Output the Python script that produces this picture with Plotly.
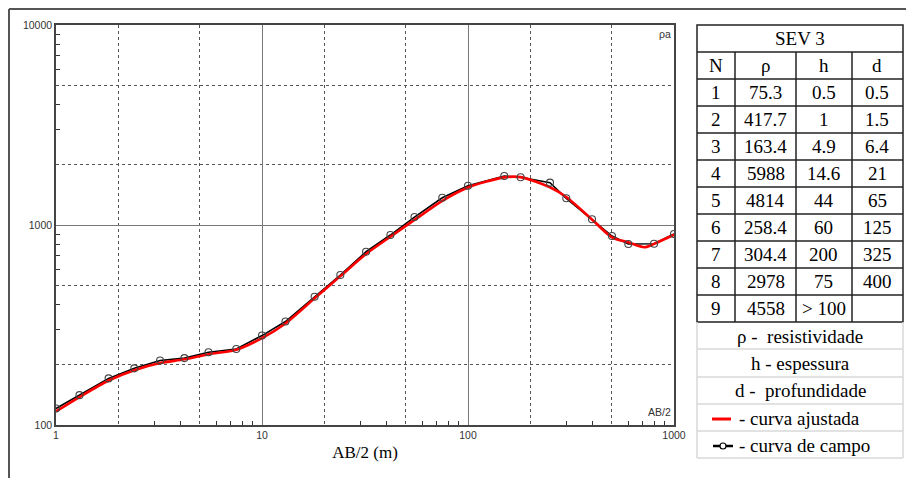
import plotly.graph_objects as go

# ---------------- data ----------------
ab2 = [1, 1.3, 1.8, 2.4, 3.2, 4.2, 5.5, 7.5, 10, 13, 18, 24, 32, 42, 55, 75,
       100, 150, 180, 250, 300, 400, 500, 600, 800, 1000]
rho_field = [121, 141, 171, 192, 210, 216, 231, 240, 280, 329, 438, 562, 735,
             891, 1096, 1369, 1572, 1758, 1732, 1628, 1360, 1068, 881, 804, 806, 902]

ab2_fit = [1, 1.3, 1.8, 2.4, 3.2, 4.2, 5.5, 7.5, 10, 13, 18, 24, 32, 42, 55, 75,
           100, 150, 180, 250, 300, 400, 500, 600, 720, 800, 1000]
rho_fit = [117, 138, 167, 188, 204, 213, 226, 238, 272, 322, 430, 555, 716, 874,
           1060, 1320, 1540, 1730, 1735, 1544, 1380, 1065, 868, 819, 774, 805, 894]

x_major = [1, 10, 100, 1000]
x_major_labels = ["1", "10", "100", "1000"]
x_grid_minor = [2, 5, 20, 50, 200, 500]
x_small_ticks = [3, 4, 6, 7, 8, 9, 30, 40, 60, 70, 80, 90, 300, 400, 600, 700, 800, 900]

y_major = [100, 1000, 10000]
y_major_labels = ["100", "1000", "10000"]
y_grid_minor = [200, 500, 2000, 5000]
y_small_ticks = [300, 400, 600, 700, 800, 900, 3000, 4000, 6000, 7000, 8000, 9000]

table_title = "SEV 3"
table_header = ["N", "ρ", "h", "d"]
col_N = ["1", "2", "3", "4", "5", "6", "7", "8", "9"]
col_rho = ["75.3", "417.7", "163.4", "5988", "4814", "258.4", "304.4", "2978", "4558"]
col_h = ["0.5", "1", "4.9", "14.6", "44", "60", "200", "75", "> 100"]
col_d = ["0.5", "1.5", "6.4", "21", "65", "125", "325", "400", ""]
legend_texts = ["ρ -  resistividade", "h - espessura", "d -  profundidade",
                "- curva ajustada", "- curva de campo"]

# ---------------- geometry (page pixels; the page body adds an 8px offset) ----------------
OFF = 8
W, H = 914 - OFF, 478 - OFF
PL, PR, PT, PB = 56, 674, 25, 425          # plot area in page pixels
L, R, T, B = PL - OFF, PR - OFF, PT - OFF, PB - OFF


def px(x):
    return (x - OFF - L) / (R - L)


def py(y):
    return (B - (y - OFF)) / (B - T)


fig = go.Figure()

fig.add_trace(go.Scatter(x=ab2, y=rho_field, mode="lines",
                         line=dict(color="black", width=1.6),
                         showlegend=False, hoverinfo="skip"))
fig.add_trace(go.Scatter(x=ab2_fit, y=rho_fit, mode="lines",
                         line=dict(color="#ff0000", width=2.6, shape="spline", smoothing=0.8),
                         showlegend=False))
fig.add_trace(go.Scatter(x=ab2, y=rho_field, mode="markers",
                         marker=dict(symbol="circle-open", size=7, color="#444",
                                     line=dict(width=1.1, color="#444")),
                         showlegend=False))
fig.add_trace(go.Scatter(x=[1], y=[100], xaxis="x2", yaxis="y2", mode="markers",
                         marker=dict(opacity=0), showlegend=False, hoverinfo="skip"))

tickfont = dict(family="Liberation Sans, Arial, sans-serif", size=10.5, color="#333")

fig.update_layout(
    width=W, height=H,
    margin=dict(l=L, r=W - R, t=T, b=H - B, pad=0),
    paper_bgcolor="white", plot_bgcolor="white",
    xaxis=dict(type="log", range=[0, 3], tickvals=x_major, ticktext=x_major_labels,
               ticks="", showline=True, mirror=True, linecolor="#444", linewidth=1.5,
               showgrid=True, gridcolor="#777", gridwidth=1.4, zeroline=False,
               tickfont=tickfont,
               minor=dict(tickvals=x_grid_minor, showgrid=True, gridcolor="#555",
                          griddash="3px,3px", gridwidth=1.4, ticks=""),
               title=dict(text="AB/2 (m)", standoff=6,
                          font=dict(family="Liberation Serif, Times New Roman, serif",
                                    size=17, color="black"))),
    yaxis=dict(type="log", range=[2, 4], tickvals=y_major, ticktext=y_major_labels,
               ticks="", showline=True, mirror=True, linecolor="#444", linewidth=1.5,
               showgrid=True, gridcolor="#777", gridwidth=1.4, zeroline=False,
               tickfont=tickfont,
               minor=dict(tickvals=y_grid_minor, showgrid=True, gridcolor="#555",
                          griddash="3px,3px", gridwidth=1.4, ticks="")),
    xaxis2=dict(type="log", range=[0, 3], overlaying="x", anchor="y", side="bottom",
                tickvals=x_small_ticks, ticks="inside", ticklen=4, tickwidth=1.2,
                tickcolor="#333", showticklabels=False, showgrid=False,
                showline=False, zeroline=False),
    yaxis2=dict(type="log", range=[2, 4], overlaying="y", anchor="x", side="left",
                tickvals=y_small_ticks, ticks="inside", ticklen=4, tickwidth=1.2,
                tickcolor="#333", showticklabels=False, showgrid=False,
                showline=False, zeroline=False),
)

shapes = []
frame_c = "#555"
shapes.append(dict(type="line", xref="paper", yref="paper", x0=px(9), x1=px(914),
                   y0=py(9), y1=py(9), line=dict(color=frame_c, width=2)))
shapes.append(dict(type="line", xref="paper", yref="paper", x0=px(9), x1=px(9),
                   y0=py(9), y1=py(478), line=dict(color=frame_c, width=2)))

tl, tr = 697, 903
t_top = 25
row_h = 27
t_bottom = 322
tc = "#222"
shapes.append(dict(type="rect", xref="paper", yref="paper", x0=px(tl), x1=px(tr),
                   y0=py(t_top), y1=py(t_bottom), line=dict(color=tc, width=1.5)))
for i in range(1, 11):
    yy = t_top + i * row_h
    shapes.append(dict(type="line", xref="paper", yref="paper", x0=px(tl), x1=px(tr),
                       y0=py(yy), y1=py(yy), line=dict(color=tc, width=1.5)))
col_x = [735, 796, 852]
for cx in col_x:
    shapes.append(dict(type="line", xref="paper", yref="paper", x0=px(cx), x1=px(cx),
                       y0=py(t_top + row_h), y1=py(t_bottom), line=dict(color=tc, width=1.5)))

lc = "#d8d8d8"
leg_lines = [349, 377, 404, 431, 458]
for yy in leg_lines:
    shapes.append(dict(type="line", xref="paper", yref="paper", x0=px(tl), x1=px(tr),
                       y0=py(yy), y1=py(yy), line=dict(color=lc, width=1.5)))
for xx in (tl, tr):
    shapes.append(dict(type="line", xref="paper", yref="paper", x0=px(xx), x1=px(xx),
                       y0=py(t_bottom), y1=py(458), line=dict(color=lc, width=1.5)))

shapes.append(dict(type="line", xref="paper", yref="paper", x0=px(712), x1=px(731),
                   y0=py(419), y1=py(419), line=dict(color="#ff0000", width=3)))
shapes.append(dict(type="line", xref="paper", yref="paper", x0=px(713), x1=px(733),
                   y0=py(446), y1=py(446), line=dict(color="black", width=2.5)))
shapes.append(dict(type="circle", xref="paper", yref="paper", x0=px(720), x1=px(726),
                   y0=py(443), y1=py(449), fillcolor="white",
                   line=dict(color="black", width=1.2)))

fig.update_layout(shapes=shapes)

serif = dict(family="Liberation Serif, Times New Roman, serif", size=19, color="black")
ann = []


def add_text(text, x, y, xanchor="center", font=serif):
    ann.append(dict(text=text, xref="paper", yref="paper", x=px(x), y=py(y),
                    xanchor=xanchor, yanchor="middle", showarrow=False, font=font))


add_text(table_title, 800, t_top + row_h / 2)
col_centers = [716, 765.5, 824, 877.5]
for c, t in zip(col_centers, table_header):
    add_text(t, c, t_top + row_h * 1.5)
for i in range(9):
    yc = t_top + row_h * (2.5 + i)
    for c, col in zip(col_centers, (col_N, col_rho, col_h, col_d)):
        if col[i]:
            add_text(col[i], c, yc)

add_text(legend_texts[0], 800, 336)
add_text(legend_texts[1], 800, 363)
add_text(legend_texts[2], 800, 390)
add_text(legend_texts[3], 737, 418, xanchor="left")
add_text(legend_texts[4], 737, 445, xanchor="left")

small = dict(family="Liberation Sans, Arial, sans-serif", size=10.5, color="#333")
add_text("ρa", 673, 34, xanchor="right", font=small)
add_text("AB/2", 673, 412, xanchor="right", font=small)

fig.update_layout(annotations=ann)

fig.write_html("out.html")
